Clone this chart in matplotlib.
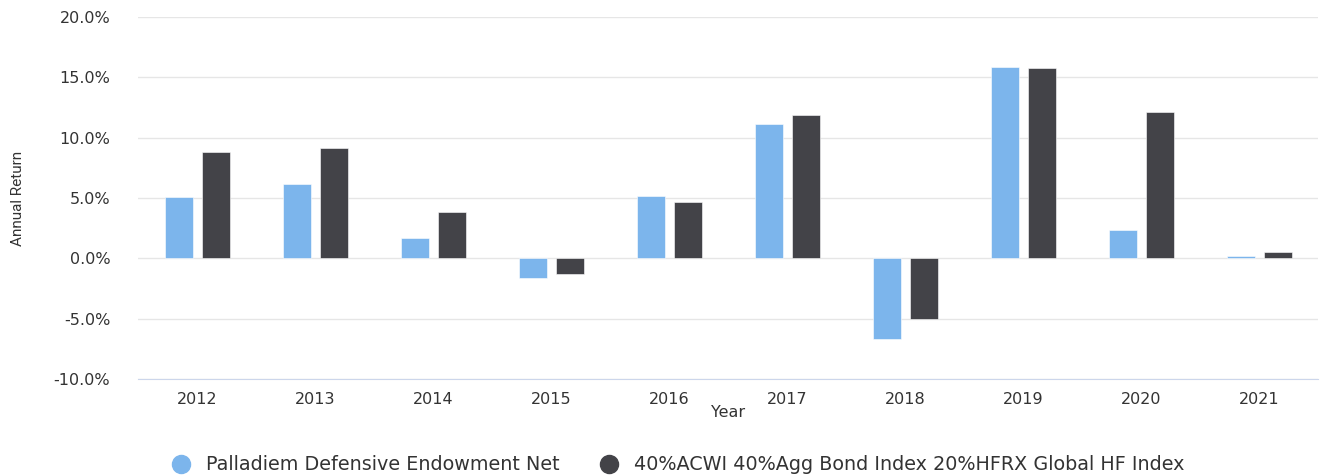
import numpy as np
import matplotlib.pyplot as plt
from matplotlib.lines import Line2D
from matplotlib.ticker import FuncFormatter

years = ["2012", "2013", "2014", "2015", "2016", "2017", "2018", "2019", "2020", "2021"]
palladiem = [5.1, 6.2, 1.67, -1.59, 5.15, 11.15, -6.7, 15.84, 2.34, 0.22]
benchmark = [8.84, 9.15, 3.87, -1.3, 4.65, 11.9, -5.05, 15.76, 12.1, 0.55]

blue = "#7cb5ec"
dark = "#434348"
text_col = "#333333"

plt.rcParams["font.family"] = ["DejaVu Sans"]

fig = plt.figure(figsize=(13.23, 4.76), dpi=100)
ax = fig.add_axes([138 / 1323, 1 - 379 / 476, 1180 / 1323, 362 / 476])

x = np.arange(len(years))
w = 0.235
ax.bar(x - 0.155, palladiem, width=w, color=blue, edgecolor="white", linewidth=0.4, zorder=3)
ax.bar(x + 0.16, benchmark, width=w, color=dark, edgecolor="white", linewidth=0.4, zorder=3)

ax.set_xlim(-0.5, len(years) - 0.5)
ax.set_ylim(-10, 20)
ax.set_yticks(np.arange(-10, 21, 5))
ax.yaxis.set_major_formatter(FuncFormatter(lambda v, p: f"{v:.1f}%"))
ax.set_xticks(x)
ax.set_xticklabels(years)

ax.grid(axis="y", color="#e6e6e6", linewidth=1, zorder=0)
for s in ["top", "right", "left"]:
    ax.spines[s].set_visible(False)
ax.spines["bottom"].set_color("#ccd6eb")
ax.spines["bottom"].set_zorder(4)
ax.tick_params(axis="both", length=0, labelsize=11.5, colors=text_col)
ax.tick_params(axis="y", pad=20)
ax.tick_params(axis="x", pad=9)

ax.set_xlabel("Year", fontsize=11.5, color=text_col)
ax.xaxis.set_label_coords(0.5, (379 - 405) / 362)
ax.set_ylabel("Annual Return", fontsize=11, color=text_col, family=["Roboto", "DejaVu Sans"])
ax.yaxis.set_label_coords((25 - 138) / 1180, 0.5)

handles = [
    Line2D([], [], marker="o", linestyle="", markersize=13, color=blue),
    Line2D([], [], marker="o", linestyle="", markersize=13, color=dark),
]
labels = ["Palladiem Defensive Endowment Net", "40%ACWI 40%Agg Bond Index 20%HFRX Global HF Index"]
fig.legend(handles, labels, loc="center", bbox_to_anchor=(673 / 1323, 1 - 465 / 476), ncol=2,
           frameon=False, fontsize=13.8, handletextpad=0.3, columnspacing=1.6, labelcolor=text_col,
           borderaxespad=0, borderpad=0)

fig.savefig("out.png", dpi=100)
